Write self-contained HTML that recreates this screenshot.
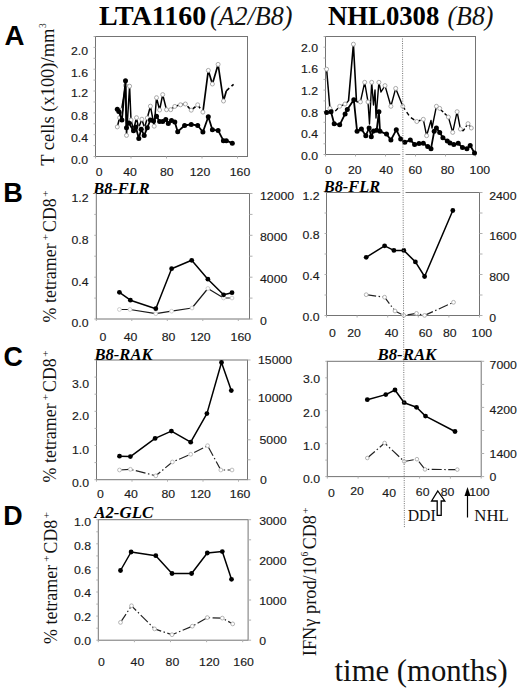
<!DOCTYPE html>
<html><head><meta charset="utf-8"><title>Figure</title>
<style>
html,body{margin:0;padding:0;background:#fff;}
body{width:520px;height:689px;overflow:hidden;}
svg{display:block;font-family:"Liberation Sans", sans-serif;}
</style></head>
<body>
<svg width="520" height="689" viewBox="0 0 520 689">
<rect width="520" height="689" fill="#fff"/>
<text x="99.0" y="25.0" font-family='"Liberation Serif", serif' font-weight="bold" font-style="normal" font-size="27.8" fill="#000" textLength="107.2" lengthAdjust="spacingAndGlyphs">LTA1160</text>
<text x="210.0" y="24.5" font-family='"Liberation Serif", serif' font-weight="normal" font-style="italic" font-size="26.5" fill="#111" textLength="82.5" lengthAdjust="spacingAndGlyphs">(A2/B8)</text>
<text x="328.0" y="25.3" font-family='"Liberation Serif", serif' font-weight="bold" font-style="normal" font-size="27" fill="#000" textLength="111.3" lengthAdjust="spacingAndGlyphs">NHL0308</text>
<text x="447.5" y="24.5" font-family='"Liberation Serif", serif' font-weight="normal" font-style="italic" font-size="26.5" fill="#111" textLength="46" lengthAdjust="spacingAndGlyphs">(B8)</text>
<text x="4.4" y="45.2" font-family='"Liberation Sans", sans-serif' font-weight="bold" font-size="27.5" fill="#000" textLength="20.0" lengthAdjust="spacingAndGlyphs">A</text>
<text x="3.3" y="202.2" font-family='"Liberation Sans", sans-serif' font-weight="bold" font-size="27.5" fill="#000" textLength="19.6" lengthAdjust="spacingAndGlyphs">B</text>
<text x="3.6" y="366.3" font-family='"Liberation Sans", sans-serif' font-weight="bold" font-size="27.5" fill="#000" textLength="19.4" lengthAdjust="spacingAndGlyphs">C</text>
<text x="3.3" y="525.0" font-family='"Liberation Sans", sans-serif' font-weight="bold" font-size="27.5" fill="#000" textLength="19.4" lengthAdjust="spacingAndGlyphs">D</text>
<rect x="95.5" y="36.5" width="152.0" height="120.0" fill="none" stroke="#747474" stroke-width="1"/>
<text transform="translate(88.0,55.1) scale(1.07,1)" text-anchor="end" font-size="11.5" fill="#1a1a1a" stroke="#1a1a1a" stroke-width="0.15">2.0</text>
<text transform="translate(88.0,76.6) scale(1.07,1)" text-anchor="end" font-size="11.5" fill="#1a1a1a" stroke="#1a1a1a" stroke-width="0.15">1.6</text>
<text transform="translate(88.0,97.4) scale(1.07,1)" text-anchor="end" font-size="11.5" fill="#1a1a1a" stroke="#1a1a1a" stroke-width="0.15">1.2</text>
<text transform="translate(88.0,119.8) scale(1.07,1)" text-anchor="end" font-size="11.5" fill="#1a1a1a" stroke="#1a1a1a" stroke-width="0.15">0.8</text>
<text transform="translate(88.0,142.1) scale(1.07,1)" text-anchor="end" font-size="11.5" fill="#1a1a1a" stroke="#1a1a1a" stroke-width="0.15">0.4</text>
<text transform="translate(88.0,163.7) scale(1.07,1)" text-anchor="end" font-size="11.5" fill="#1a1a1a" stroke="#1a1a1a" stroke-width="0.15">0.0</text>
<text transform="translate(99.2,176.1) scale(1.07,1)" text-anchor="middle" font-size="11.5" fill="#1a1a1a" stroke="#1a1a1a" stroke-width="0.15">0</text>
<text transform="translate(130.0,176.1) scale(1.07,1)" text-anchor="middle" font-size="11.5" fill="#1a1a1a" stroke="#1a1a1a" stroke-width="0.15">40</text>
<text transform="translate(166.8,176.1) scale(1.07,1)" text-anchor="middle" font-size="11.5" fill="#1a1a1a" stroke="#1a1a1a" stroke-width="0.15">80</text>
<text transform="translate(200.0,176.1) scale(1.07,1)" text-anchor="middle" font-size="11.5" fill="#1a1a1a" stroke="#1a1a1a" stroke-width="0.15">120</text>
<text transform="translate(240.0,176.1) scale(1.07,1)" text-anchor="middle" font-size="11.5" fill="#1a1a1a" stroke="#1a1a1a" stroke-width="0.15">160</text>
<line x1="93.5" y1="156.5" x2="95.5" y2="156.5" stroke="#b0b0b0" stroke-width="1"/>
<line x1="93.5" y1="145.6" x2="95.5" y2="145.6" stroke="#b0b0b0" stroke-width="1"/>
<line x1="93.5" y1="134.7" x2="95.5" y2="134.7" stroke="#b0b0b0" stroke-width="1"/>
<line x1="93.5" y1="123.8" x2="95.5" y2="123.8" stroke="#b0b0b0" stroke-width="1"/>
<line x1="93.5" y1="112.9" x2="95.5" y2="112.9" stroke="#b0b0b0" stroke-width="1"/>
<line x1="93.5" y1="102.0" x2="95.5" y2="102.0" stroke="#b0b0b0" stroke-width="1"/>
<line x1="93.5" y1="91.0" x2="95.5" y2="91.0" stroke="#b0b0b0" stroke-width="1"/>
<line x1="93.5" y1="80.1" x2="95.5" y2="80.1" stroke="#b0b0b0" stroke-width="1"/>
<line x1="93.5" y1="69.2" x2="95.5" y2="69.2" stroke="#b0b0b0" stroke-width="1"/>
<line x1="93.5" y1="58.3" x2="95.5" y2="58.3" stroke="#b0b0b0" stroke-width="1"/>
<line x1="93.5" y1="47.4" x2="95.5" y2="47.4" stroke="#b0b0b0" stroke-width="1"/>
<line x1="93.5" y1="36.5" x2="95.5" y2="36.5" stroke="#b0b0b0" stroke-width="1"/>
<line x1="95.5" y1="156.5" x2="95.5" y2="158.5" stroke="#b0b0b0" stroke-width="1"/>
<line x1="131.0" y1="156.5" x2="131.0" y2="158.5" stroke="#b0b0b0" stroke-width="1"/>
<line x1="166.5" y1="156.5" x2="166.5" y2="158.5" stroke="#b0b0b0" stroke-width="1"/>
<line x1="202.0" y1="156.5" x2="202.0" y2="158.5" stroke="#b0b0b0" stroke-width="1"/>
<line x1="237.5" y1="156.5" x2="237.5" y2="158.5" stroke="#b0b0b0" stroke-width="1"/>
<polyline points="117.3,126.9 119.6,117.7 121.5,110.0 125.5,85.4 126.5,135.4 129.6,86.2 131.0,120.0 133.5,130.0 136.5,117.7 138.5,128.0 141.9,119.2 144.5,128.0 147.3,118.0 150.4,106.2 154.2,126.2 156.5,97.7 159.6,110.0 162.7,94.6 166.5,109.7 170.7,109.7 174.8,106.4" fill="none" stroke="#000" stroke-width="1.5" stroke-linejoin="round"/>
<polyline points="174.8,106.4 180.5,104.8 185.4,104.0 191.2,110.2 197.7,104.8 202.9,112.1" fill="none" stroke="#000" stroke-width="1.6" stroke-linejoin="round" stroke-dasharray="4,3"/>
<polyline points="202.9,112.1 208.3,70.4 212.4,84.0 218.1,64.4 223.5,101.0 226.3,90.9" fill="none" stroke="#000" stroke-width="1.7" stroke-linejoin="round"/>
<polyline points="226.3,90.9 233.6,84.3" fill="none" stroke="#000" stroke-width="1.6" stroke-linejoin="round" stroke-dasharray="4,3"/>
<circle cx="117.3" cy="126.9" r="2.0" fill="#fff" stroke="#a0a0a0" stroke-width="0.9"/>
<circle cx="119.6" cy="117.7" r="2.0" fill="#fff" stroke="#a0a0a0" stroke-width="0.9"/>
<circle cx="121.5" cy="110.0" r="2.0" fill="#fff" stroke="#a0a0a0" stroke-width="0.9"/>
<circle cx="125.5" cy="85.4" r="2.0" fill="#fff" stroke="#a0a0a0" stroke-width="0.9"/>
<circle cx="126.5" cy="135.4" r="2.0" fill="#fff" stroke="#a0a0a0" stroke-width="0.9"/>
<circle cx="129.6" cy="86.2" r="2.0" fill="#fff" stroke="#a0a0a0" stroke-width="0.9"/>
<circle cx="131.0" cy="120.0" r="2.0" fill="#fff" stroke="#a0a0a0" stroke-width="0.9"/>
<circle cx="133.5" cy="130.0" r="2.0" fill="#fff" stroke="#a0a0a0" stroke-width="0.9"/>
<circle cx="136.5" cy="117.7" r="2.0" fill="#fff" stroke="#a0a0a0" stroke-width="0.9"/>
<circle cx="138.5" cy="128.0" r="2.0" fill="#fff" stroke="#a0a0a0" stroke-width="0.9"/>
<circle cx="141.9" cy="119.2" r="2.0" fill="#fff" stroke="#a0a0a0" stroke-width="0.9"/>
<circle cx="144.5" cy="128.0" r="2.0" fill="#fff" stroke="#a0a0a0" stroke-width="0.9"/>
<circle cx="147.3" cy="118.0" r="2.0" fill="#fff" stroke="#a0a0a0" stroke-width="0.9"/>
<circle cx="150.4" cy="106.2" r="2.0" fill="#fff" stroke="#a0a0a0" stroke-width="0.9"/>
<circle cx="154.2" cy="126.2" r="2.0" fill="#fff" stroke="#a0a0a0" stroke-width="0.9"/>
<circle cx="156.5" cy="97.7" r="2.0" fill="#fff" stroke="#a0a0a0" stroke-width="0.9"/>
<circle cx="159.6" cy="110.0" r="2.0" fill="#fff" stroke="#a0a0a0" stroke-width="0.9"/>
<circle cx="162.7" cy="94.6" r="2.0" fill="#fff" stroke="#a0a0a0" stroke-width="0.9"/>
<circle cx="166.5" cy="109.7" r="2.0" fill="#fff" stroke="#a0a0a0" stroke-width="0.9"/>
<circle cx="170.7" cy="109.7" r="2.0" fill="#fff" stroke="#a0a0a0" stroke-width="0.9"/>
<circle cx="174.8" cy="106.4" r="2.0" fill="#fff" stroke="#a0a0a0" stroke-width="0.9"/>
<circle cx="180.5" cy="104.8" r="2.0" fill="#fff" stroke="#a0a0a0" stroke-width="0.9"/>
<circle cx="185.4" cy="104.0" r="2.0" fill="#fff" stroke="#a0a0a0" stroke-width="0.9"/>
<circle cx="191.2" cy="110.2" r="2.0" fill="#fff" stroke="#a0a0a0" stroke-width="0.9"/>
<circle cx="197.7" cy="104.8" r="2.0" fill="#fff" stroke="#a0a0a0" stroke-width="0.9"/>
<circle cx="202.9" cy="112.1" r="2.0" fill="#fff" stroke="#a0a0a0" stroke-width="0.9"/>
<circle cx="208.3" cy="70.4" r="2.0" fill="#fff" stroke="#a0a0a0" stroke-width="0.9"/>
<circle cx="212.4" cy="84.0" r="2.0" fill="#fff" stroke="#a0a0a0" stroke-width="0.9"/>
<circle cx="218.1" cy="64.4" r="2.0" fill="#fff" stroke="#a0a0a0" stroke-width="0.9"/>
<circle cx="223.5" cy="101.0" r="2.0" fill="#fff" stroke="#a0a0a0" stroke-width="0.9"/>
<polyline points="117.3,109.2 118.8,111.5 121.9,120.0 125.5,80.8 126.5,127.7 128.8,123.0 133.5,130.8 135.8,127.0 138.8,138.5 141.2,129.2 144.2,135.4 147.3,127.7 150.4,120.0 153.5,121.0 156.5,116.2 159.6,121.5 162.7,121.5 165.8,119.5 168.3,123.6 171.5,120.6 174.8,121.9 177.7,131.7 184.6,125.5 191.2,124.4 197.7,125.5 202.9,132.0 208.3,116.7 212.4,129.8 218.1,130.4 223.4,140.7 226.3,140.7 232.3,143.2" fill="none" stroke="#000" stroke-width="1.8" stroke-linejoin="round"/>
<circle cx="117.3" cy="109.2" r="2.5" fill="#000"/>
<circle cx="118.8" cy="111.5" r="2.5" fill="#000"/>
<circle cx="121.9" cy="120.0" r="2.5" fill="#000"/>
<circle cx="125.5" cy="80.8" r="2.5" fill="#000"/>
<circle cx="126.5" cy="127.7" r="2.5" fill="#000"/>
<circle cx="128.8" cy="123.0" r="2.5" fill="#000"/>
<circle cx="133.5" cy="130.8" r="2.5" fill="#000"/>
<circle cx="135.8" cy="127.0" r="2.5" fill="#000"/>
<circle cx="138.8" cy="138.5" r="2.5" fill="#000"/>
<circle cx="141.2" cy="129.2" r="2.5" fill="#000"/>
<circle cx="144.2" cy="135.4" r="2.5" fill="#000"/>
<circle cx="147.3" cy="127.7" r="2.5" fill="#000"/>
<circle cx="150.4" cy="120.0" r="2.5" fill="#000"/>
<circle cx="153.5" cy="121.0" r="2.5" fill="#000"/>
<circle cx="156.5" cy="116.2" r="2.5" fill="#000"/>
<circle cx="159.6" cy="121.5" r="2.5" fill="#000"/>
<circle cx="162.7" cy="121.5" r="2.5" fill="#000"/>
<circle cx="165.8" cy="119.5" r="2.5" fill="#000"/>
<circle cx="168.3" cy="123.6" r="2.5" fill="#000"/>
<circle cx="171.5" cy="120.6" r="2.5" fill="#000"/>
<circle cx="174.8" cy="121.9" r="2.5" fill="#000"/>
<circle cx="177.7" cy="131.7" r="2.5" fill="#000"/>
<circle cx="184.6" cy="125.5" r="2.5" fill="#000"/>
<circle cx="191.2" cy="124.4" r="2.5" fill="#000"/>
<circle cx="197.7" cy="125.5" r="2.5" fill="#000"/>
<circle cx="202.9" cy="132.0" r="2.5" fill="#000"/>
<circle cx="208.3" cy="116.7" r="2.5" fill="#000"/>
<circle cx="212.4" cy="129.8" r="2.5" fill="#000"/>
<circle cx="218.1" cy="130.4" r="2.5" fill="#000"/>
<circle cx="223.4" cy="140.7" r="2.5" fill="#000"/>
<circle cx="226.3" cy="140.7" r="2.5" fill="#000"/>
<circle cx="232.3" cy="143.2" r="2.5" fill="#000"/>
<rect x="325.5" y="36.5" width="150.0" height="118.0" fill="none" stroke="#747474" stroke-width="1"/>
<text transform="translate(318.0,52.0) scale(1.07,1)" text-anchor="end" font-size="11.5" fill="#1a1a1a" stroke="#1a1a1a" stroke-width="0.15">2.0</text>
<text transform="translate(318.0,73.3) scale(1.07,1)" text-anchor="end" font-size="11.5" fill="#1a1a1a" stroke="#1a1a1a" stroke-width="0.15">1.6</text>
<text transform="translate(318.0,95.1) scale(1.07,1)" text-anchor="end" font-size="11.5" fill="#1a1a1a" stroke="#1a1a1a" stroke-width="0.15">1.2</text>
<text transform="translate(318.0,116.5) scale(1.07,1)" text-anchor="end" font-size="11.5" fill="#1a1a1a" stroke="#1a1a1a" stroke-width="0.15">0.8</text>
<text transform="translate(318.0,138.2) scale(1.07,1)" text-anchor="end" font-size="11.5" fill="#1a1a1a" stroke="#1a1a1a" stroke-width="0.15">0.4</text>
<text transform="translate(318.0,159.7) scale(1.07,1)" text-anchor="end" font-size="11.5" fill="#1a1a1a" stroke="#1a1a1a" stroke-width="0.15">0.0</text>
<text transform="translate(328.5,174.1) scale(1.07,1)" text-anchor="middle" font-size="11.5" fill="#1a1a1a" stroke="#1a1a1a" stroke-width="0.15">0</text>
<text transform="translate(354.8,174.1) scale(1.07,1)" text-anchor="middle" font-size="11.5" fill="#1a1a1a" stroke="#1a1a1a" stroke-width="0.15">20</text>
<text transform="translate(386.2,174.1) scale(1.07,1)" text-anchor="middle" font-size="11.5" fill="#1a1a1a" stroke="#1a1a1a" stroke-width="0.15">40</text>
<text transform="translate(415.3,174.1) scale(1.07,1)" text-anchor="middle" font-size="11.5" fill="#1a1a1a" stroke="#1a1a1a" stroke-width="0.15">60</text>
<text transform="translate(447.5,174.1) scale(1.07,1)" text-anchor="middle" font-size="11.5" fill="#1a1a1a" stroke="#1a1a1a" stroke-width="0.15">80</text>
<text transform="translate(479.8,174.1) scale(1.07,1)" text-anchor="middle" font-size="11.5" fill="#1a1a1a" stroke="#1a1a1a" stroke-width="0.15">100</text>
<line x1="323.5" y1="154.5" x2="325.5" y2="154.5" stroke="#b0b0b0" stroke-width="1"/>
<line x1="323.5" y1="143.8" x2="325.5" y2="143.8" stroke="#b0b0b0" stroke-width="1"/>
<line x1="323.5" y1="133.0" x2="325.5" y2="133.0" stroke="#b0b0b0" stroke-width="1"/>
<line x1="323.5" y1="122.3" x2="325.5" y2="122.3" stroke="#b0b0b0" stroke-width="1"/>
<line x1="323.5" y1="111.6" x2="325.5" y2="111.6" stroke="#b0b0b0" stroke-width="1"/>
<line x1="323.5" y1="100.9" x2="325.5" y2="100.9" stroke="#b0b0b0" stroke-width="1"/>
<line x1="323.5" y1="90.1" x2="325.5" y2="90.1" stroke="#b0b0b0" stroke-width="1"/>
<line x1="323.5" y1="79.4" x2="325.5" y2="79.4" stroke="#b0b0b0" stroke-width="1"/>
<line x1="323.5" y1="68.7" x2="325.5" y2="68.7" stroke="#b0b0b0" stroke-width="1"/>
<line x1="323.5" y1="58.0" x2="325.5" y2="58.0" stroke="#b0b0b0" stroke-width="1"/>
<line x1="323.5" y1="47.2" x2="325.5" y2="47.2" stroke="#b0b0b0" stroke-width="1"/>
<line x1="323.5" y1="36.5" x2="325.5" y2="36.5" stroke="#b0b0b0" stroke-width="1"/>
<line x1="325.5" y1="154.5" x2="325.5" y2="156.5" stroke="#b0b0b0" stroke-width="1"/>
<line x1="355.5" y1="154.5" x2="355.5" y2="156.5" stroke="#b0b0b0" stroke-width="1"/>
<line x1="385.5" y1="154.5" x2="385.5" y2="156.5" stroke="#b0b0b0" stroke-width="1"/>
<line x1="415.5" y1="154.5" x2="415.5" y2="156.5" stroke="#b0b0b0" stroke-width="1"/>
<line x1="445.5" y1="154.5" x2="445.5" y2="156.5" stroke="#b0b0b0" stroke-width="1"/>
<line x1="475.5" y1="154.5" x2="475.5" y2="156.5" stroke="#b0b0b0" stroke-width="1"/>
<polyline points="326.6,69.2 329.9,108.4" fill="none" stroke="#000" stroke-width="1.5" stroke-linejoin="round"/>
<polyline points="329.9,108.4 334.5,112.0 339.7,106.3 345.0,104.0 348.5,101.0" fill="none" stroke="#000" stroke-width="1.4" stroke-linejoin="round" stroke-dasharray="4,3"/>
<polyline points="348.5,101.0 353.4,44.2 356.5,101.9" fill="none" stroke="#000" stroke-width="1.6" stroke-linejoin="round"/>
<polyline points="356.5,101.9 360.4,101.9" fill="none" stroke="#000" stroke-width="1.4" stroke-linejoin="round" stroke-dasharray="3,2"/>
<polyline points="360.4,101.9 364.7,82.3 368.0,101.9 369.5,124.0 371.7,82.3 373.5,105.0 375.0,90.0 376.0,118.0 378.9,82.3 381.0,92.0 385.0,85.6 390.9,106.3 395.7,88.4 402.8,106.3" fill="none" stroke="#000" stroke-width="1.4" stroke-linejoin="round"/>
<polyline points="402.8,106.3 410.0,117.0 416.8,121.5 423.3,119.3" fill="none" stroke="#000" stroke-width="1.4" stroke-linejoin="round" stroke-dasharray="4,3"/>
<polyline points="423.3,119.3 426.6,135.7 431.0,120.4 432.0,128.0 436.4,106.3 439.7,108.4 441.0,110.0" fill="none" stroke="#000" stroke-width="1.4" stroke-linejoin="round"/>
<polyline points="441.0,110.0 448.4,117.1" fill="none" stroke="#000" stroke-width="1.4" stroke-linejoin="round" stroke-dasharray="3,2"/>
<polyline points="448.4,117.1 452.7,132.4 457.1,111.7 460.4,129.1 463.0,131.0" fill="none" stroke="#000" stroke-width="1.4" stroke-linejoin="round"/>
<polyline points="463.0,131.0 468.0,123.7 471.3,128.0" fill="none" stroke="#000" stroke-width="1.4" stroke-linejoin="round" stroke-dasharray="3,2"/>
<circle cx="326.6" cy="69.2" r="2.0" fill="#fff" stroke="#a0a0a0" stroke-width="0.9"/>
<circle cx="329.9" cy="108.4" r="2.0" fill="#fff" stroke="#a0a0a0" stroke-width="0.9"/>
<circle cx="339.7" cy="106.3" r="2.0" fill="#fff" stroke="#a0a0a0" stroke-width="0.9"/>
<circle cx="345.0" cy="104.0" r="2.0" fill="#fff" stroke="#a0a0a0" stroke-width="0.9"/>
<circle cx="353.4" cy="44.2" r="2.0" fill="#fff" stroke="#a0a0a0" stroke-width="0.9"/>
<circle cx="360.4" cy="101.9" r="2.0" fill="#fff" stroke="#a0a0a0" stroke-width="0.9"/>
<circle cx="364.7" cy="82.3" r="2.0" fill="#fff" stroke="#a0a0a0" stroke-width="0.9"/>
<circle cx="368.0" cy="101.9" r="2.0" fill="#fff" stroke="#a0a0a0" stroke-width="0.9"/>
<circle cx="371.7" cy="82.3" r="2.0" fill="#fff" stroke="#a0a0a0" stroke-width="0.9"/>
<circle cx="378.9" cy="82.3" r="2.0" fill="#fff" stroke="#a0a0a0" stroke-width="0.9"/>
<circle cx="385.0" cy="85.6" r="2.0" fill="#fff" stroke="#a0a0a0" stroke-width="0.9"/>
<circle cx="390.9" cy="106.3" r="2.0" fill="#fff" stroke="#a0a0a0" stroke-width="0.9"/>
<circle cx="395.7" cy="88.4" r="2.0" fill="#fff" stroke="#a0a0a0" stroke-width="0.9"/>
<circle cx="402.8" cy="106.3" r="2.0" fill="#fff" stroke="#a0a0a0" stroke-width="0.9"/>
<circle cx="416.8" cy="121.5" r="2.0" fill="#fff" stroke="#a0a0a0" stroke-width="0.9"/>
<circle cx="423.3" cy="119.3" r="2.0" fill="#fff" stroke="#a0a0a0" stroke-width="0.9"/>
<circle cx="426.6" cy="135.7" r="2.0" fill="#fff" stroke="#a0a0a0" stroke-width="0.9"/>
<circle cx="436.4" cy="106.3" r="2.0" fill="#fff" stroke="#a0a0a0" stroke-width="0.9"/>
<circle cx="439.7" cy="108.4" r="2.0" fill="#fff" stroke="#a0a0a0" stroke-width="0.9"/>
<circle cx="448.4" cy="117.1" r="2.0" fill="#fff" stroke="#a0a0a0" stroke-width="0.9"/>
<circle cx="452.7" cy="132.4" r="2.0" fill="#fff" stroke="#a0a0a0" stroke-width="0.9"/>
<circle cx="457.1" cy="111.7" r="2.0" fill="#fff" stroke="#a0a0a0" stroke-width="0.9"/>
<circle cx="460.4" cy="129.1" r="2.0" fill="#fff" stroke="#a0a0a0" stroke-width="0.9"/>
<circle cx="468.0" cy="123.7" r="2.0" fill="#fff" stroke="#a0a0a0" stroke-width="0.9"/>
<circle cx="471.3" cy="128.0" r="2.0" fill="#fff" stroke="#a0a0a0" stroke-width="0.9"/>
<polyline points="326.6,112.4 331.0,111.7 334.2,123.7 339.7,124.8 345.1,113.9 347.3,109.5 353.8,99.7 357.1,131.3 361.4,129.1 365.8,135.7 369.1,128.0 371.3,136.8 373.5,131.0 376.7,130.2 378.9,111.7 380.0,131.3 386.5,134.1 390.9,140.0 396.3,129.8 400.7,138.9 404.8,142.2 410.3,140.0 414.6,144.4 419.0,143.5 423.3,143.3 427.7,146.6 431.0,148.7 434.2,131.3 436.4,128.0 439.7,132.4 442.9,137.8 447.3,141.1 450.0,143.0 453.8,144.4 458.2,143.3 462.5,147.6 466.9,148.7 470.2,145.5 474.5,153.0" fill="none" stroke="#000" stroke-width="1.8" stroke-linejoin="round"/>
<circle cx="326.6" cy="112.4" r="2.5" fill="#000"/>
<circle cx="331.0" cy="111.7" r="2.5" fill="#000"/>
<circle cx="334.2" cy="123.7" r="2.5" fill="#000"/>
<circle cx="339.7" cy="124.8" r="2.5" fill="#000"/>
<circle cx="345.1" cy="113.9" r="2.5" fill="#000"/>
<circle cx="347.3" cy="109.5" r="2.5" fill="#000"/>
<circle cx="353.8" cy="99.7" r="2.5" fill="#000"/>
<circle cx="357.1" cy="131.3" r="2.5" fill="#000"/>
<circle cx="361.4" cy="129.1" r="2.5" fill="#000"/>
<circle cx="365.8" cy="135.7" r="2.5" fill="#000"/>
<circle cx="369.1" cy="128.0" r="2.5" fill="#000"/>
<circle cx="371.3" cy="136.8" r="2.5" fill="#000"/>
<circle cx="373.5" cy="131.0" r="2.5" fill="#000"/>
<circle cx="376.7" cy="130.2" r="2.5" fill="#000"/>
<circle cx="378.9" cy="111.7" r="2.5" fill="#000"/>
<circle cx="380.0" cy="131.3" r="2.5" fill="#000"/>
<circle cx="386.5" cy="134.1" r="2.5" fill="#000"/>
<circle cx="390.9" cy="140.0" r="2.5" fill="#000"/>
<circle cx="396.3" cy="129.8" r="2.5" fill="#000"/>
<circle cx="400.7" cy="138.9" r="2.5" fill="#000"/>
<circle cx="404.8" cy="142.2" r="2.5" fill="#000"/>
<circle cx="410.3" cy="140.0" r="2.5" fill="#000"/>
<circle cx="414.6" cy="144.4" r="2.5" fill="#000"/>
<circle cx="419.0" cy="143.5" r="2.5" fill="#000"/>
<circle cx="423.3" cy="143.3" r="2.5" fill="#000"/>
<circle cx="427.7" cy="146.6" r="2.5" fill="#000"/>
<circle cx="431.0" cy="148.7" r="2.5" fill="#000"/>
<circle cx="434.2" cy="131.3" r="2.5" fill="#000"/>
<circle cx="436.4" cy="128.0" r="2.5" fill="#000"/>
<circle cx="439.7" cy="132.4" r="2.5" fill="#000"/>
<circle cx="442.9" cy="137.8" r="2.5" fill="#000"/>
<circle cx="447.3" cy="141.1" r="2.5" fill="#000"/>
<circle cx="450.0" cy="143.0" r="2.5" fill="#000"/>
<circle cx="453.8" cy="144.4" r="2.5" fill="#000"/>
<circle cx="458.2" cy="143.3" r="2.5" fill="#000"/>
<circle cx="462.5" cy="147.6" r="2.5" fill="#000"/>
<circle cx="466.9" cy="148.7" r="2.5" fill="#000"/>
<circle cx="470.2" cy="145.5" r="2.5" fill="#000"/>
<circle cx="474.5" cy="153.0" r="2.5" fill="#000"/>
<rect x="96.3" y="193.5" width="153.2" height="125.5" fill="none" stroke="#747474" stroke-width="1"/>
<text x="93.2" y="193.7" font-family='"Liberation Serif", serif' font-weight="bold" font-style="italic" font-size="15.8" fill="#000" textLength="56.5" lengthAdjust="spacingAndGlyphs">B8-FLR</text>
<text transform="translate(88.5,201.6) scale(1.07,1)" text-anchor="end" font-size="11.5" fill="#1a1a1a" stroke="#1a1a1a" stroke-width="0.15">1.2</text>
<text transform="translate(88.5,243.9) scale(1.07,1)" text-anchor="end" font-size="11.5" fill="#1a1a1a" stroke="#1a1a1a" stroke-width="0.15">0.8</text>
<text transform="translate(88.5,285.6) scale(1.07,1)" text-anchor="end" font-size="11.5" fill="#1a1a1a" stroke="#1a1a1a" stroke-width="0.15">0.4</text>
<text transform="translate(88.5,327.1) scale(1.07,1)" text-anchor="end" font-size="11.5" fill="#1a1a1a" stroke="#1a1a1a" stroke-width="0.15">0.0</text>
<text transform="translate(260.0,200.4) scale(1.07,1)" text-anchor="start" font-size="11.5" fill="#1a1a1a" stroke="#1a1a1a" stroke-width="0.15">12000</text>
<text transform="translate(260.0,241.1) scale(1.07,1)" text-anchor="start" font-size="11.5" fill="#1a1a1a" stroke="#1a1a1a" stroke-width="0.15">8000</text>
<text transform="translate(260.0,282.9) scale(1.07,1)" text-anchor="start" font-size="11.5" fill="#1a1a1a" stroke="#1a1a1a" stroke-width="0.15">4000</text>
<text transform="translate(260.0,324.8) scale(1.07,1)" text-anchor="start" font-size="11.5" fill="#1a1a1a" stroke="#1a1a1a" stroke-width="0.15">0</text>
<text transform="translate(102.8,341.4) scale(1.07,1)" text-anchor="middle" font-size="11.5" fill="#1a1a1a" stroke="#1a1a1a" stroke-width="0.15">0</text>
<text transform="translate(130.6,341.4) scale(1.07,1)" text-anchor="middle" font-size="11.5" fill="#1a1a1a" stroke="#1a1a1a" stroke-width="0.15">40</text>
<text transform="translate(168.5,341.4) scale(1.07,1)" text-anchor="middle" font-size="11.5" fill="#1a1a1a" stroke="#1a1a1a" stroke-width="0.15">80</text>
<text transform="translate(200.4,341.4) scale(1.07,1)" text-anchor="middle" font-size="11.5" fill="#1a1a1a" stroke="#1a1a1a" stroke-width="0.15">120</text>
<text transform="translate(240.8,341.4) scale(1.07,1)" text-anchor="middle" font-size="11.5" fill="#1a1a1a" stroke="#1a1a1a" stroke-width="0.15">160</text>
<line x1="94.3" y1="319.0" x2="96.3" y2="319.0" stroke="#b0b0b0" stroke-width="1"/>
<line x1="94.3" y1="298.1" x2="96.3" y2="298.1" stroke="#b0b0b0" stroke-width="1"/>
<line x1="94.3" y1="277.2" x2="96.3" y2="277.2" stroke="#b0b0b0" stroke-width="1"/>
<line x1="94.3" y1="256.2" x2="96.3" y2="256.2" stroke="#b0b0b0" stroke-width="1"/>
<line x1="94.3" y1="235.3" x2="96.3" y2="235.3" stroke="#b0b0b0" stroke-width="1"/>
<line x1="94.3" y1="214.4" x2="96.3" y2="214.4" stroke="#b0b0b0" stroke-width="1"/>
<line x1="94.3" y1="193.5" x2="96.3" y2="193.5" stroke="#b0b0b0" stroke-width="1"/>
<line x1="249.5" y1="319.0" x2="252.5" y2="319.0" stroke="#b0b0b0" stroke-width="1"/>
<line x1="249.5" y1="298.1" x2="252.5" y2="298.1" stroke="#b0b0b0" stroke-width="1"/>
<line x1="249.5" y1="277.2" x2="252.5" y2="277.2" stroke="#b0b0b0" stroke-width="1"/>
<line x1="249.5" y1="256.2" x2="252.5" y2="256.2" stroke="#b0b0b0" stroke-width="1"/>
<line x1="249.5" y1="235.3" x2="252.5" y2="235.3" stroke="#b0b0b0" stroke-width="1"/>
<line x1="249.5" y1="214.4" x2="252.5" y2="214.4" stroke="#b0b0b0" stroke-width="1"/>
<line x1="249.5" y1="193.5" x2="252.5" y2="193.5" stroke="#b0b0b0" stroke-width="1"/>
<line x1="96.3" y1="319" x2="96.3" y2="321" stroke="#b0b0b0" stroke-width="1"/>
<line x1="131.8" y1="319" x2="131.8" y2="321" stroke="#b0b0b0" stroke-width="1"/>
<line x1="167.3" y1="319" x2="167.3" y2="321" stroke="#b0b0b0" stroke-width="1"/>
<line x1="202.8" y1="319" x2="202.8" y2="321" stroke="#b0b0b0" stroke-width="1"/>
<line x1="238.3" y1="319" x2="238.3" y2="321" stroke="#b0b0b0" stroke-width="1"/>
<polyline points="119.4,309.5 130.0,309.5 155.8,313.7 171.6,311.2 192.0,308.0 207.9,288.5 223.6,298.0 232.0,298.0" fill="none" stroke="#1a1a1a" stroke-width="1.2" stroke-linejoin="round"/>
<circle cx="119.4" cy="309.5" r="1.9" fill="#fff" stroke="#c8c8c8" stroke-width="0.9"/>
<circle cx="130.0" cy="309.5" r="1.9" fill="#fff" stroke="#c8c8c8" stroke-width="0.9"/>
<circle cx="155.8" cy="313.7" r="1.9" fill="#fff" stroke="#c8c8c8" stroke-width="0.9"/>
<circle cx="171.6" cy="311.2" r="1.9" fill="#fff" stroke="#c8c8c8" stroke-width="0.9"/>
<circle cx="192.0" cy="308.0" r="1.9" fill="#fff" stroke="#c8c8c8" stroke-width="0.9"/>
<circle cx="207.9" cy="288.5" r="1.9" fill="#fff" stroke="#c8c8c8" stroke-width="0.9"/>
<circle cx="223.6" cy="298.0" r="1.9" fill="#fff" stroke="#c8c8c8" stroke-width="0.9"/>
<circle cx="232.0" cy="298.0" r="1.9" fill="#fff" stroke="#c8c8c8" stroke-width="0.9"/>
<polyline points="119.4,292.3 130.4,300.2 155.8,308.7 171.6,268.7 191.7,260.3 207.9,279.2 223.6,294.8 232.0,292.7" fill="none" stroke="#000" stroke-width="1.5" stroke-linejoin="round"/>
<circle cx="119.4" cy="292.3" r="2.4" fill="#000"/>
<circle cx="130.4" cy="300.2" r="2.4" fill="#000"/>
<circle cx="155.8" cy="308.7" r="2.4" fill="#000"/>
<circle cx="171.6" cy="268.7" r="2.4" fill="#000"/>
<circle cx="191.7" cy="260.3" r="2.4" fill="#000"/>
<circle cx="207.9" cy="279.2" r="2.4" fill="#000"/>
<circle cx="223.6" cy="294.8" r="2.4" fill="#000"/>
<circle cx="232.0" cy="292.7" r="2.4" fill="#000"/>
<rect x="326.5" y="192.5" width="153.0" height="123.0" fill="none" stroke="#747474" stroke-width="1"/>
<text x="323.8" y="192.3" font-family='"Liberation Serif", serif' font-weight="bold" font-style="italic" font-size="15.8" fill="#000" textLength="56.3" lengthAdjust="spacingAndGlyphs">B8-FLR</text>
<text transform="translate(319.5,199.5) scale(1.07,1)" text-anchor="end" font-size="11.5" fill="#1a1a1a" stroke="#1a1a1a" stroke-width="0.15">1.2</text>
<text transform="translate(319.5,239.0) scale(1.07,1)" text-anchor="end" font-size="11.5" fill="#1a1a1a" stroke="#1a1a1a" stroke-width="0.15">0.8</text>
<text transform="translate(319.5,279.8) scale(1.07,1)" text-anchor="end" font-size="11.5" fill="#1a1a1a" stroke="#1a1a1a" stroke-width="0.15">0.4</text>
<text transform="translate(319.5,321.4) scale(1.07,1)" text-anchor="end" font-size="11.5" fill="#1a1a1a" stroke="#1a1a1a" stroke-width="0.15">0.0</text>
<text transform="translate(489.2,199.8) scale(1.07,1)" text-anchor="start" font-size="11.5" fill="#1a1a1a" stroke="#1a1a1a" stroke-width="0.15">2400</text>
<text transform="translate(489.2,240.1) scale(1.07,1)" text-anchor="start" font-size="11.5" fill="#1a1a1a" stroke="#1a1a1a" stroke-width="0.15">1600</text>
<text transform="translate(489.2,281.1) scale(1.07,1)" text-anchor="start" font-size="11.5" fill="#1a1a1a" stroke="#1a1a1a" stroke-width="0.15">800</text>
<text transform="translate(489.2,322.1) scale(1.07,1)" text-anchor="start" font-size="11.5" fill="#1a1a1a" stroke="#1a1a1a" stroke-width="0.15">0</text>
<text transform="translate(332.5,336.5) scale(1.07,1)" text-anchor="middle" font-size="11.5" fill="#1a1a1a" stroke="#1a1a1a" stroke-width="0.15">0</text>
<text transform="translate(354.0,336.5) scale(1.07,1)" text-anchor="middle" font-size="11.5" fill="#1a1a1a" stroke="#1a1a1a" stroke-width="0.15">20</text>
<text transform="translate(391.5,336.5) scale(1.07,1)" text-anchor="middle" font-size="11.5" fill="#1a1a1a" stroke="#1a1a1a" stroke-width="0.15">40</text>
<text transform="translate(425.6,336.5) scale(1.07,1)" text-anchor="middle" font-size="11.5" fill="#1a1a1a" stroke="#1a1a1a" stroke-width="0.15">60</text>
<text transform="translate(449.8,336.5) scale(1.07,1)" text-anchor="middle" font-size="11.5" fill="#1a1a1a" stroke="#1a1a1a" stroke-width="0.15">80</text>
<text transform="translate(481.8,336.5) scale(1.07,1)" text-anchor="middle" font-size="11.5" fill="#1a1a1a" stroke="#1a1a1a" stroke-width="0.15">100</text>
<line x1="324.5" y1="315.5" x2="326.5" y2="315.5" stroke="#b0b0b0" stroke-width="1"/>
<line x1="324.5" y1="295.0" x2="326.5" y2="295.0" stroke="#b0b0b0" stroke-width="1"/>
<line x1="324.5" y1="274.5" x2="326.5" y2="274.5" stroke="#b0b0b0" stroke-width="1"/>
<line x1="324.5" y1="254.0" x2="326.5" y2="254.0" stroke="#b0b0b0" stroke-width="1"/>
<line x1="324.5" y1="233.5" x2="326.5" y2="233.5" stroke="#b0b0b0" stroke-width="1"/>
<line x1="324.5" y1="213.0" x2="326.5" y2="213.0" stroke="#b0b0b0" stroke-width="1"/>
<line x1="324.5" y1="192.5" x2="326.5" y2="192.5" stroke="#b0b0b0" stroke-width="1"/>
<line x1="479.5" y1="315.5" x2="482.5" y2="315.5" stroke="#b0b0b0" stroke-width="1"/>
<line x1="479.5" y1="295.0" x2="482.5" y2="295.0" stroke="#b0b0b0" stroke-width="1"/>
<line x1="479.5" y1="274.5" x2="482.5" y2="274.5" stroke="#b0b0b0" stroke-width="1"/>
<line x1="479.5" y1="254.0" x2="482.5" y2="254.0" stroke="#b0b0b0" stroke-width="1"/>
<line x1="479.5" y1="233.5" x2="482.5" y2="233.5" stroke="#b0b0b0" stroke-width="1"/>
<line x1="479.5" y1="213.0" x2="482.5" y2="213.0" stroke="#b0b0b0" stroke-width="1"/>
<line x1="479.5" y1="192.5" x2="482.5" y2="192.5" stroke="#b0b0b0" stroke-width="1"/>
<line x1="326.5" y1="315.5" x2="326.5" y2="317.5" stroke="#b0b0b0" stroke-width="1"/>
<line x1="357.1" y1="315.5" x2="357.1" y2="317.5" stroke="#b0b0b0" stroke-width="1"/>
<line x1="387.7" y1="315.5" x2="387.7" y2="317.5" stroke="#b0b0b0" stroke-width="1"/>
<line x1="418.3" y1="315.5" x2="418.3" y2="317.5" stroke="#b0b0b0" stroke-width="1"/>
<line x1="448.9" y1="315.5" x2="448.9" y2="317.5" stroke="#b0b0b0" stroke-width="1"/>
<line x1="479.5" y1="315.5" x2="479.5" y2="317.5" stroke="#b0b0b0" stroke-width="1"/>
<polyline points="366.2,294.7 384.6,297.2 395.0,311.0 403.8,315.4 416.5,313.4 424.6,315.4 453.5,302.3" fill="none" stroke="#222" stroke-width="1.2" stroke-linejoin="round" stroke-dasharray="10,2.5,1.5,2.5"/>
<circle cx="366.2" cy="294.7" r="1.9" fill="#fff" stroke="#aaa" stroke-width="0.9"/>
<circle cx="384.6" cy="297.2" r="1.9" fill="#fff" stroke="#aaa" stroke-width="0.9"/>
<circle cx="395.0" cy="311.0" r="1.9" fill="#fff" stroke="#aaa" stroke-width="0.9"/>
<circle cx="403.8" cy="315.4" r="1.9" fill="#fff" stroke="#aaa" stroke-width="0.9"/>
<circle cx="416.5" cy="313.4" r="1.9" fill="#fff" stroke="#aaa" stroke-width="0.9"/>
<circle cx="424.6" cy="315.4" r="1.9" fill="#fff" stroke="#aaa" stroke-width="0.9"/>
<circle cx="453.5" cy="302.3" r="1.9" fill="#fff" stroke="#aaa" stroke-width="0.9"/>
<polyline points="366.2,257.3 384.6,245.8 393.9,250.4 403.8,250.4 415.4,261.9 424.6,276.5 452.8,210.5" fill="none" stroke="#000" stroke-width="1.5" stroke-linejoin="round"/>
<circle cx="366.2" cy="257.3" r="2.4" fill="#000"/>
<circle cx="384.6" cy="245.8" r="2.4" fill="#000"/>
<circle cx="393.9" cy="250.4" r="2.4" fill="#000"/>
<circle cx="403.8" cy="250.4" r="2.4" fill="#000"/>
<circle cx="415.4" cy="261.9" r="2.4" fill="#000"/>
<circle cx="424.6" cy="276.5" r="2.4" fill="#000"/>
<circle cx="452.8" cy="210.5" r="2.4" fill="#000"/>
<rect x="96.5" y="360" width="151.0" height="119.69999999999999" fill="none" stroke="#747474" stroke-width="1"/>
<text x="94.5" y="360.3" font-family='"Liberation Serif", serif' font-weight="bold" font-style="italic" font-size="15.8" fill="#000" textLength="58" lengthAdjust="spacingAndGlyphs">B8-RAK</text>
<text transform="translate(89.0,387.6) scale(1.07,1)" text-anchor="end" font-size="11.5" fill="#1a1a1a" stroke="#1a1a1a" stroke-width="0.15">3.0</text>
<text transform="translate(89.0,420.3) scale(1.07,1)" text-anchor="end" font-size="11.5" fill="#1a1a1a" stroke="#1a1a1a" stroke-width="0.15">2.0</text>
<text transform="translate(89.0,453.8) scale(1.07,1)" text-anchor="end" font-size="11.5" fill="#1a1a1a" stroke="#1a1a1a" stroke-width="0.15">1.0</text>
<text transform="translate(89.0,486.8) scale(1.07,1)" text-anchor="end" font-size="11.5" fill="#1a1a1a" stroke="#1a1a1a" stroke-width="0.15">0.0</text>
<text transform="translate(258.0,364.4) scale(1.07,1)" text-anchor="start" font-size="11.5" fill="#1a1a1a" stroke="#1a1a1a" stroke-width="0.15">15000</text>
<text transform="translate(258.0,401.9) scale(1.07,1)" text-anchor="start" font-size="11.5" fill="#1a1a1a" stroke="#1a1a1a" stroke-width="0.15">10000</text>
<text transform="translate(259.5,443.6) scale(1.07,1)" text-anchor="start" font-size="11.5" fill="#1a1a1a" stroke="#1a1a1a" stroke-width="0.15">5000</text>
<text transform="translate(260.0,483.9) scale(1.07,1)" text-anchor="start" font-size="11.5" fill="#1a1a1a" stroke="#1a1a1a" stroke-width="0.15">0</text>
<text transform="translate(100.4,498.1) scale(1.07,1)" text-anchor="middle" font-size="11.5" fill="#1a1a1a" stroke="#1a1a1a" stroke-width="0.15">0</text>
<text transform="translate(131.0,498.1) scale(1.07,1)" text-anchor="middle" font-size="11.5" fill="#1a1a1a" stroke="#1a1a1a" stroke-width="0.15">40</text>
<text transform="translate(168.3,498.1) scale(1.07,1)" text-anchor="middle" font-size="11.5" fill="#1a1a1a" stroke="#1a1a1a" stroke-width="0.15">80</text>
<text transform="translate(200.6,498.1) scale(1.07,1)" text-anchor="middle" font-size="11.5" fill="#1a1a1a" stroke="#1a1a1a" stroke-width="0.15">120</text>
<text transform="translate(240.1,498.1) scale(1.07,1)" text-anchor="middle" font-size="11.5" fill="#1a1a1a" stroke="#1a1a1a" stroke-width="0.15">160</text>
<line x1="94.5" y1="479.7" x2="96.5" y2="479.7" stroke="#b0b0b0" stroke-width="1"/>
<line x1="94.5" y1="462.6" x2="96.5" y2="462.6" stroke="#b0b0b0" stroke-width="1"/>
<line x1="94.5" y1="445.5" x2="96.5" y2="445.5" stroke="#b0b0b0" stroke-width="1"/>
<line x1="94.5" y1="428.4" x2="96.5" y2="428.4" stroke="#b0b0b0" stroke-width="1"/>
<line x1="94.5" y1="411.3" x2="96.5" y2="411.3" stroke="#b0b0b0" stroke-width="1"/>
<line x1="94.5" y1="394.2" x2="96.5" y2="394.2" stroke="#b0b0b0" stroke-width="1"/>
<line x1="94.5" y1="377.1" x2="96.5" y2="377.1" stroke="#b0b0b0" stroke-width="1"/>
<line x1="94.5" y1="360.0" x2="96.5" y2="360.0" stroke="#b0b0b0" stroke-width="1"/>
<line x1="247.5" y1="479.7" x2="250.5" y2="479.7" stroke="#b0b0b0" stroke-width="1"/>
<line x1="247.5" y1="459.8" x2="250.5" y2="459.8" stroke="#b0b0b0" stroke-width="1"/>
<line x1="247.5" y1="439.8" x2="250.5" y2="439.8" stroke="#b0b0b0" stroke-width="1"/>
<line x1="247.5" y1="419.9" x2="250.5" y2="419.9" stroke="#b0b0b0" stroke-width="1"/>
<line x1="247.5" y1="399.9" x2="250.5" y2="399.9" stroke="#b0b0b0" stroke-width="1"/>
<line x1="247.5" y1="379.9" x2="250.5" y2="379.9" stroke="#b0b0b0" stroke-width="1"/>
<line x1="247.5" y1="360.0" x2="250.5" y2="360.0" stroke="#b0b0b0" stroke-width="1"/>
<line x1="96.5" y1="479.7" x2="96.5" y2="481.7" stroke="#b0b0b0" stroke-width="1"/>
<line x1="132.0" y1="479.7" x2="132.0" y2="481.7" stroke="#b0b0b0" stroke-width="1"/>
<line x1="167.5" y1="479.7" x2="167.5" y2="481.7" stroke="#b0b0b0" stroke-width="1"/>
<line x1="203.0" y1="479.7" x2="203.0" y2="481.7" stroke="#b0b0b0" stroke-width="1"/>
<line x1="238.5" y1="479.7" x2="238.5" y2="481.7" stroke="#b0b0b0" stroke-width="1"/>
<polyline points="119.5,470.0 130.4,469.3 155.8,475.8 172.4,462.0 190.7,454.3 207.6,445.7 220.8,470.0 232.0,470.0" fill="none" stroke="#222" stroke-width="1.2" stroke-linejoin="round" stroke-dasharray="10,2.5,1.5,2.5"/>
<circle cx="119.5" cy="470.0" r="1.9" fill="#fff" stroke="#b5b5b5" stroke-width="0.9"/>
<circle cx="130.4" cy="469.3" r="1.9" fill="#fff" stroke="#b5b5b5" stroke-width="0.9"/>
<circle cx="155.8" cy="475.8" r="1.9" fill="#fff" stroke="#b5b5b5" stroke-width="0.9"/>
<circle cx="172.4" cy="462.0" r="1.9" fill="#fff" stroke="#b5b5b5" stroke-width="0.9"/>
<circle cx="190.7" cy="454.3" r="1.9" fill="#fff" stroke="#b5b5b5" stroke-width="0.9"/>
<circle cx="207.6" cy="445.7" r="1.9" fill="#fff" stroke="#b5b5b5" stroke-width="0.9"/>
<circle cx="220.8" cy="470.0" r="1.9" fill="#fff" stroke="#b5b5b5" stroke-width="0.9"/>
<circle cx="232.0" cy="470.0" r="1.9" fill="#fff" stroke="#b5b5b5" stroke-width="0.9"/>
<polyline points="119.5,456.2 130.4,456.6 155.1,438.4 171.4,431.1 190.7,442.2 206.9,413.6 221.5,362.5 231.3,390.6" fill="none" stroke="#000" stroke-width="1.5" stroke-linejoin="round"/>
<circle cx="119.5" cy="456.2" r="2.4" fill="#000"/>
<circle cx="130.4" cy="456.6" r="2.4" fill="#000"/>
<circle cx="155.1" cy="438.4" r="2.4" fill="#000"/>
<circle cx="171.4" cy="431.1" r="2.4" fill="#000"/>
<circle cx="190.7" cy="442.2" r="2.4" fill="#000"/>
<circle cx="206.9" cy="413.6" r="2.4" fill="#000"/>
<circle cx="221.5" cy="362.5" r="2.4" fill="#000"/>
<circle cx="231.3" cy="390.6" r="2.4" fill="#000"/>
<rect x="327.3" y="361.3" width="153.89999999999998" height="115.30000000000001" fill="none" stroke="#747474" stroke-width="1"/>
<text x="377.5" y="359.6" font-family='"Liberation Serif", serif' font-weight="bold" font-style="italic" font-size="15.8" fill="#000" textLength="58.8" lengthAdjust="spacingAndGlyphs">B8-RAK</text>
<text transform="translate(320.0,383.0) scale(1.07,1)" text-anchor="end" font-size="11.5" fill="#1a1a1a" stroke="#1a1a1a" stroke-width="0.15">3.0</text>
<text transform="translate(320.0,416.9) scale(1.07,1)" text-anchor="end" font-size="11.5" fill="#1a1a1a" stroke="#1a1a1a" stroke-width="0.15">2.0</text>
<text transform="translate(320.0,449.8) scale(1.07,1)" text-anchor="end" font-size="11.5" fill="#1a1a1a" stroke="#1a1a1a" stroke-width="0.15">1.0</text>
<text transform="translate(320.0,482.9) scale(1.07,1)" text-anchor="end" font-size="11.5" fill="#1a1a1a" stroke="#1a1a1a" stroke-width="0.15">0.0</text>
<text transform="translate(489.6,368.5) scale(1.07,1)" text-anchor="start" font-size="11.5" fill="#1a1a1a" stroke="#1a1a1a" stroke-width="0.15">7000</text>
<text transform="translate(489.6,414.4) scale(1.07,1)" text-anchor="start" font-size="11.5" fill="#1a1a1a" stroke="#1a1a1a" stroke-width="0.15">4200</text>
<text transform="translate(489.6,457.7) scale(1.07,1)" text-anchor="start" font-size="11.5" fill="#1a1a1a" stroke="#1a1a1a" stroke-width="0.15">1400</text>
<text transform="translate(489.6,480.7) scale(1.07,1)" text-anchor="start" font-size="11.5" fill="#1a1a1a" stroke="#1a1a1a" stroke-width="0.15">0</text>
<text transform="translate(331.3,496.7) scale(1.07,1)" text-anchor="middle" font-size="11.5" fill="#1a1a1a" stroke="#1a1a1a" stroke-width="0.15">0</text>
<text transform="translate(357.0,494.9) scale(1.07,1)" text-anchor="middle" font-size="11.5" fill="#1a1a1a" stroke="#1a1a1a" stroke-width="0.15">20</text>
<text transform="translate(389.2,496.6) scale(1.07,1)" text-anchor="middle" font-size="11.5" fill="#1a1a1a" stroke="#1a1a1a" stroke-width="0.15">40</text>
<text transform="translate(422.7,496.4) scale(1.07,1)" text-anchor="middle" font-size="11.5" fill="#1a1a1a" stroke="#1a1a1a" stroke-width="0.15">60</text>
<text transform="translate(447.5,496.4) scale(1.07,1)" text-anchor="middle" font-size="11.5" fill="#1a1a1a" stroke="#1a1a1a" stroke-width="0.15">80</text>
<text transform="translate(479.4,496.3) scale(1.07,1)" text-anchor="middle" font-size="11.5" fill="#1a1a1a" stroke="#1a1a1a" stroke-width="0.15">100</text>
<line x1="325.3" y1="476.6" x2="327.3" y2="476.6" stroke="#b0b0b0" stroke-width="1"/>
<line x1="325.3" y1="460.1" x2="327.3" y2="460.1" stroke="#b0b0b0" stroke-width="1"/>
<line x1="325.3" y1="443.7" x2="327.3" y2="443.7" stroke="#b0b0b0" stroke-width="1"/>
<line x1="325.3" y1="427.2" x2="327.3" y2="427.2" stroke="#b0b0b0" stroke-width="1"/>
<line x1="325.3" y1="410.7" x2="327.3" y2="410.7" stroke="#b0b0b0" stroke-width="1"/>
<line x1="325.3" y1="394.2" x2="327.3" y2="394.2" stroke="#b0b0b0" stroke-width="1"/>
<line x1="325.3" y1="377.8" x2="327.3" y2="377.8" stroke="#b0b0b0" stroke-width="1"/>
<line x1="325.3" y1="361.3" x2="327.3" y2="361.3" stroke="#b0b0b0" stroke-width="1"/>
<line x1="481.2" y1="476.6" x2="484.2" y2="476.6" stroke="#b0b0b0" stroke-width="1"/>
<line x1="481.2" y1="453.5" x2="484.2" y2="453.5" stroke="#b0b0b0" stroke-width="1"/>
<line x1="481.2" y1="430.5" x2="484.2" y2="430.5" stroke="#b0b0b0" stroke-width="1"/>
<line x1="481.2" y1="407.4" x2="484.2" y2="407.4" stroke="#b0b0b0" stroke-width="1"/>
<line x1="481.2" y1="384.4" x2="484.2" y2="384.4" stroke="#b0b0b0" stroke-width="1"/>
<line x1="481.2" y1="361.3" x2="484.2" y2="361.3" stroke="#b0b0b0" stroke-width="1"/>
<line x1="327.3" y1="476.6" x2="327.3" y2="478.6" stroke="#b0b0b0" stroke-width="1"/>
<line x1="358.1" y1="476.6" x2="358.1" y2="478.6" stroke="#b0b0b0" stroke-width="1"/>
<line x1="388.9" y1="476.6" x2="388.9" y2="478.6" stroke="#b0b0b0" stroke-width="1"/>
<line x1="419.6" y1="476.6" x2="419.6" y2="478.6" stroke="#b0b0b0" stroke-width="1"/>
<line x1="450.4" y1="476.6" x2="450.4" y2="478.6" stroke="#b0b0b0" stroke-width="1"/>
<line x1="481.2" y1="476.6" x2="481.2" y2="478.6" stroke="#b0b0b0" stroke-width="1"/>
<polyline points="367.3,458.0 384.6,443.0 404.2,461.5 416.9,459.2 425.0,469.4 457.3,469.6" fill="none" stroke="#222" stroke-width="1.2" stroke-linejoin="round" stroke-dasharray="10,2.5,1.5,2.5"/>
<circle cx="367.3" cy="458.0" r="1.8" fill="#fff" stroke="#aaa" stroke-width="0.9"/>
<circle cx="384.6" cy="443.0" r="1.8" fill="#fff" stroke="#aaa" stroke-width="0.9"/>
<circle cx="404.2" cy="461.5" r="1.8" fill="#fff" stroke="#aaa" stroke-width="0.9"/>
<circle cx="416.9" cy="459.2" r="1.8" fill="#fff" stroke="#aaa" stroke-width="0.9"/>
<circle cx="425.0" cy="469.4" r="1.8" fill="#fff" stroke="#aaa" stroke-width="0.9"/>
<circle cx="457.3" cy="469.6" r="1.8" fill="#fff" stroke="#aaa" stroke-width="0.9"/>
<polyline points="367.3,399.7 385.8,394.6 395.0,390.0 404.2,402.7 416.5,407.3 425.5,416.1 455.0,431.5" fill="none" stroke="#000" stroke-width="1.5" stroke-linejoin="round"/>
<circle cx="367.3" cy="399.7" r="2.4" fill="#000"/>
<circle cx="385.8" cy="394.6" r="2.4" fill="#000"/>
<circle cx="395.0" cy="390.0" r="2.4" fill="#000"/>
<circle cx="404.2" cy="402.7" r="2.4" fill="#000"/>
<circle cx="416.5" cy="407.3" r="2.4" fill="#000"/>
<circle cx="425.5" cy="416.1" r="2.4" fill="#000"/>
<circle cx="455.0" cy="431.5" r="2.4" fill="#000"/>
<rect x="98.3" y="519.7" width="149.8" height="120.5" fill="none" stroke="#747474" stroke-width="1"/>
<text x="94.2" y="517.5" font-family='"Liberation Serif", serif' font-weight="bold" font-style="italic" font-size="15.8" fill="#000" textLength="59" lengthAdjust="spacingAndGlyphs">A2-GLC</text>
<text transform="translate(91.0,525.6) scale(1.07,1)" text-anchor="end" font-size="11.5" fill="#1a1a1a" stroke="#1a1a1a" stroke-width="0.15">1.0</text>
<text transform="translate(91.0,549.5) scale(1.07,1)" text-anchor="end" font-size="11.5" fill="#1a1a1a" stroke="#1a1a1a" stroke-width="0.15">0.8</text>
<text transform="translate(91.0,573.6) scale(1.07,1)" text-anchor="end" font-size="11.5" fill="#1a1a1a" stroke="#1a1a1a" stroke-width="0.15">0.6</text>
<text transform="translate(91.0,597.1) scale(1.07,1)" text-anchor="end" font-size="11.5" fill="#1a1a1a" stroke="#1a1a1a" stroke-width="0.15">0.4</text>
<text transform="translate(91.0,621.4) scale(1.07,1)" text-anchor="end" font-size="11.5" fill="#1a1a1a" stroke="#1a1a1a" stroke-width="0.15">0.2</text>
<text transform="translate(91.0,645.3) scale(1.07,1)" text-anchor="end" font-size="11.5" fill="#1a1a1a" stroke="#1a1a1a" stroke-width="0.15">0.0</text>
<text transform="translate(259.2,525.3) scale(1.07,1)" text-anchor="start" font-size="11.5" fill="#1a1a1a" stroke="#1a1a1a" stroke-width="0.15">3000</text>
<text transform="translate(259.2,564.9) scale(1.07,1)" text-anchor="start" font-size="11.5" fill="#1a1a1a" stroke="#1a1a1a" stroke-width="0.15">2000</text>
<text transform="translate(259.2,604.9) scale(1.07,1)" text-anchor="start" font-size="11.5" fill="#1a1a1a" stroke="#1a1a1a" stroke-width="0.15">1000</text>
<text transform="translate(259.2,645.3) scale(1.07,1)" text-anchor="start" font-size="11.5" fill="#1a1a1a" stroke="#1a1a1a" stroke-width="0.15">0</text>
<text transform="translate(101.4,665.8) scale(1.07,1)" text-anchor="middle" font-size="11.5" fill="#1a1a1a" stroke="#1a1a1a" stroke-width="0.15">0</text>
<text transform="translate(137.4,665.8) scale(1.07,1)" text-anchor="middle" font-size="11.5" fill="#1a1a1a" stroke="#1a1a1a" stroke-width="0.15">40</text>
<text transform="translate(172.4,665.8) scale(1.07,1)" text-anchor="middle" font-size="11.5" fill="#1a1a1a" stroke="#1a1a1a" stroke-width="0.15">80</text>
<text transform="translate(209.3,665.8) scale(1.07,1)" text-anchor="middle" font-size="11.5" fill="#1a1a1a" stroke="#1a1a1a" stroke-width="0.15">120</text>
<text transform="translate(243.6,665.8) scale(1.07,1)" text-anchor="middle" font-size="11.5" fill="#1a1a1a" stroke="#1a1a1a" stroke-width="0.15">160</text>
<line x1="96.3" y1="640.2" x2="98.3" y2="640.2" stroke="#b0b0b0" stroke-width="1"/>
<line x1="96.3" y1="628.2" x2="98.3" y2="628.2" stroke="#b0b0b0" stroke-width="1"/>
<line x1="96.3" y1="616.1" x2="98.3" y2="616.1" stroke="#b0b0b0" stroke-width="1"/>
<line x1="96.3" y1="604.1" x2="98.3" y2="604.1" stroke="#b0b0b0" stroke-width="1"/>
<line x1="96.3" y1="592.0" x2="98.3" y2="592.0" stroke="#b0b0b0" stroke-width="1"/>
<line x1="96.3" y1="580.0" x2="98.3" y2="580.0" stroke="#b0b0b0" stroke-width="1"/>
<line x1="96.3" y1="567.9" x2="98.3" y2="567.9" stroke="#b0b0b0" stroke-width="1"/>
<line x1="96.3" y1="555.9" x2="98.3" y2="555.9" stroke="#b0b0b0" stroke-width="1"/>
<line x1="96.3" y1="543.8" x2="98.3" y2="543.8" stroke="#b0b0b0" stroke-width="1"/>
<line x1="96.3" y1="531.8" x2="98.3" y2="531.8" stroke="#b0b0b0" stroke-width="1"/>
<line x1="96.3" y1="519.7" x2="98.3" y2="519.7" stroke="#b0b0b0" stroke-width="1"/>
<line x1="248.1" y1="640.2" x2="251.1" y2="640.2" stroke="#b0b0b0" stroke-width="1"/>
<line x1="248.1" y1="620.1" x2="251.1" y2="620.1" stroke="#b0b0b0" stroke-width="1"/>
<line x1="248.1" y1="600.0" x2="251.1" y2="600.0" stroke="#b0b0b0" stroke-width="1"/>
<line x1="248.1" y1="580.0" x2="251.1" y2="580.0" stroke="#b0b0b0" stroke-width="1"/>
<line x1="248.1" y1="559.9" x2="251.1" y2="559.9" stroke="#b0b0b0" stroke-width="1"/>
<line x1="248.1" y1="539.8" x2="251.1" y2="539.8" stroke="#b0b0b0" stroke-width="1"/>
<line x1="248.1" y1="519.7" x2="251.1" y2="519.7" stroke="#b0b0b0" stroke-width="1"/>
<line x1="98.3" y1="640.2" x2="98.3" y2="642.2" stroke="#b0b0b0" stroke-width="1"/>
<line x1="134.4" y1="640.2" x2="134.4" y2="642.2" stroke="#b0b0b0" stroke-width="1"/>
<line x1="170.5" y1="640.2" x2="170.5" y2="642.2" stroke="#b0b0b0" stroke-width="1"/>
<line x1="206.6" y1="640.2" x2="206.6" y2="642.2" stroke="#b0b0b0" stroke-width="1"/>
<line x1="242.7" y1="640.2" x2="242.7" y2="642.2" stroke="#b0b0b0" stroke-width="1"/>
<polyline points="120.5,622.4 131.5,605.8 154.6,628.9 172.0,634.7 192.3,626.2 207.3,617.6 222.3,618.1 232.7,623.9" fill="none" stroke="#222" stroke-width="1.2" stroke-linejoin="round" stroke-dasharray="10,2.5,1.5,2.5"/>
<circle cx="120.5" cy="622.4" r="1.9" fill="#fff" stroke="#aaa" stroke-width="0.9"/>
<circle cx="131.5" cy="605.8" r="1.9" fill="#fff" stroke="#aaa" stroke-width="0.9"/>
<circle cx="154.6" cy="628.9" r="1.9" fill="#fff" stroke="#aaa" stroke-width="0.9"/>
<circle cx="172.0" cy="634.7" r="1.9" fill="#fff" stroke="#aaa" stroke-width="0.9"/>
<circle cx="192.3" cy="626.2" r="1.9" fill="#fff" stroke="#aaa" stroke-width="0.9"/>
<circle cx="207.3" cy="617.6" r="1.9" fill="#fff" stroke="#aaa" stroke-width="0.9"/>
<circle cx="222.3" cy="618.1" r="1.9" fill="#fff" stroke="#aaa" stroke-width="0.9"/>
<circle cx="232.7" cy="623.9" r="1.9" fill="#fff" stroke="#aaa" stroke-width="0.9"/>
<polyline points="120.5,570.5 131.1,552.0 155.8,555.7 172.0,573.5 191.6,573.5 207.3,553.0 222.3,551.6 231.5,579.3" fill="none" stroke="#000" stroke-width="1.5" stroke-linejoin="round"/>
<circle cx="120.5" cy="570.5" r="2.4" fill="#000"/>
<circle cx="131.1" cy="552.0" r="2.4" fill="#000"/>
<circle cx="155.8" cy="555.7" r="2.4" fill="#000"/>
<circle cx="172.0" cy="573.5" r="2.4" fill="#000"/>
<circle cx="191.6" cy="573.5" r="2.4" fill="#000"/>
<circle cx="207.3" cy="553.0" r="2.4" fill="#000"/>
<circle cx="222.3" cy="551.6" r="2.4" fill="#000"/>
<circle cx="231.5" cy="579.3" r="2.4" fill="#000"/>
<rect x="400.3" y="153.6" width="5.2" height="2" fill="#fff"/>
<rect x="400.3" y="191.6" width="5.2" height="2" fill="#fff"/>
<line x1="402.5" y1="38.5" x2="404.4" y2="527.5" stroke="#707070" stroke-width="1" stroke-dasharray="1,1.3"/>
<text x="407.7" y="521.3" font-family='"Liberation Serif", serif' font-weight="normal" font-style="normal" font-size="16.5" fill="#111" textLength="28" lengthAdjust="spacingAndGlyphs">DDI</text>
<text x="474.3" y="521.3" font-family='"Liberation Serif", serif' font-weight="normal" font-style="normal" font-size="16.5" fill="#111" textLength="34.5" lengthAdjust="spacingAndGlyphs">NHL</text>
<path d="M437.8,491 L444.8,501 L441.2,501 L441.2,515.3 L437.2,515.3 L437.2,501 L431.6,501 Z" fill="#fff" stroke="#000" stroke-width="1.3" stroke-linejoin="miter"/>
<path d="M467.5,487 L470.5,496 L464.5,496 Z" fill="#000"/>
<line x1="467.5" y1="494" x2="467.5" y2="517.5" stroke="#000" stroke-width="1.2"/>
<text transform="translate(54.0,165.8) rotate(-90)" font-family='"Liberation Serif", serif' font-size="18" fill="#111" textLength="137.2" lengthAdjust="spacingAndGlyphs">T cells (x100)/mm</text>
<text transform="translate(45.5,28.0) rotate(-90)" font-family='"Liberation Serif", serif' font-size="9.5" fill="#111">3</text>
<text transform="translate(55.5,322.4) rotate(-90)" font-family='"Liberation Serif", serif' font-size="18" fill="#111" textLength="79.0" lengthAdjust="spacingAndGlyphs">% tetramer</text>
<text transform="translate(48.5,240.2) rotate(-90)" font-family='"Liberation Serif", serif' font-size="11" fill="#111">+</text>
<text transform="translate(55.5,231.9) rotate(-90)" font-family='"Liberation Serif", serif' font-size="18" fill="#111" textLength="33.5" lengthAdjust="spacingAndGlyphs">CD8</text>
<text transform="translate(48.5,196.8) rotate(-90)" font-family='"Liberation Serif", serif' font-size="11" fill="#111">+</text>
<text transform="translate(56.2,482.4) rotate(-90)" font-family='"Liberation Serif", serif' font-size="18" fill="#111" textLength="79.0" lengthAdjust="spacingAndGlyphs">% tetramer</text>
<text transform="translate(49.2,400.2) rotate(-90)" font-family='"Liberation Serif", serif' font-size="11" fill="#111">+</text>
<text transform="translate(56.2,391.9) rotate(-90)" font-family='"Liberation Serif", serif' font-size="18" fill="#111" textLength="33.5" lengthAdjust="spacingAndGlyphs">CD8</text>
<text transform="translate(49.2,356.8) rotate(-90)" font-family='"Liberation Serif", serif' font-size="11" fill="#111">+</text>
<text transform="translate(56.8,643.9) rotate(-90)" font-family='"Liberation Serif", serif' font-size="18" fill="#111" textLength="79.0" lengthAdjust="spacingAndGlyphs">% tetramer</text>
<text transform="translate(49.8,561.7) rotate(-90)" font-family='"Liberation Serif", serif' font-size="11" fill="#111">+</text>
<text transform="translate(56.8,553.4) rotate(-90)" font-family='"Liberation Serif", serif' font-size="18" fill="#111" textLength="33.5" lengthAdjust="spacingAndGlyphs">CD8</text>
<text transform="translate(49.8,518.3) rotate(-90)" font-family='"Liberation Serif", serif' font-size="11" fill="#111">+</text>
<text transform="translate(315.8,656.2) rotate(-90)" font-family='"Liberation Serif", serif' font-size="18" fill="#111" textLength="99.2" lengthAdjust="spacingAndGlyphs">IFN&#947; prod/10</text>
<text transform="translate(307.8,556.5) rotate(-90)" font-family='"Liberation Serif", serif' font-size="9.5" fill="#111">6</text>
<text transform="translate(315.8,549.3) rotate(-90)" font-family='"Liberation Serif", serif' font-size="18" fill="#111" textLength="34.0" lengthAdjust="spacingAndGlyphs">CD8</text>
<text transform="translate(308.8,513.7) rotate(-90)" font-family='"Liberation Serif", serif' font-size="11" fill="#111">+</text>
<text x="334.6" y="680.9" font-family='"Liberation Serif", serif' font-weight="normal" font-style="normal" font-size="32" fill="#111" textLength="173" lengthAdjust="spacingAndGlyphs">time (months)</text>
</svg>
</body></html>
